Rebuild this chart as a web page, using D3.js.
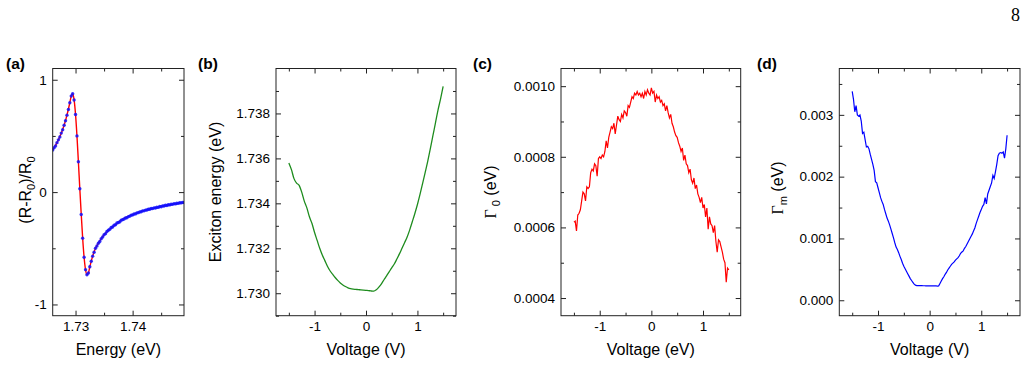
<!DOCTYPE html>
<html><head><meta charset="utf-8">
<script src="https://cdn.jsdelivr.net/npm/d3@7"></script>
<style>
body{margin:0;background:#fff;}
svg{display:block;}
text{font-family:"Liberation Sans",Arial,Helvetica,sans-serif;fill:#000;}
</style>
</head><body>
<svg id="chart" width="1027" height="392"></svg>
<script>
// ---------- Panel (a): reflectance contrast spectrum ----------
const energyA = [1.72600,1.72625,1.72650,1.72675,1.72700,1.72725,1.72750,1.72775,1.72800,1.72825,
 1.72850,1.72875,1.72900,1.72925,1.72950,1.72975,1.73000,1.73025,1.73050,1.73075,
 1.73100,1.73125,1.73150,1.73175,1.73200,1.73225,1.73250,1.73275,1.73300,1.73325,
 1.73350,1.73375,1.73400,1.73425,1.73450,1.73475,1.73500,1.73525,1.73550,1.73575,
 1.73600,1.73625,1.73650,1.73675,1.73700,1.73725,1.73750,1.73775,1.73800,1.73825,
 1.73850,1.73875,1.73900,1.73925,1.73950,1.73975,1.74000,1.74025,1.74050,1.74075,
 1.74100,1.74125,1.74150,1.74175,1.74200,1.74225,1.74250,1.74275,1.74300,1.74325,
 1.74350,1.74375,1.74400,1.74425,1.74450,1.74475,1.74500,1.74525,1.74550,1.74575,
 1.74600,1.74625,1.74650,1.74675,1.74700,1.74725,1.74750,1.74775,1.74800,1.74825,
 1.74850,1.74875,1.74900];
const reflA = [0.375,0.395,0.41,0.44,0.465,0.49,0.525,0.555,0.595,0.635,
 0.685,0.735,0.795,0.855,0.875,0.82,0.69,0.5,0.27,0.03,
 -0.2,-0.41,-0.58,-0.69,-0.735,-0.72,-0.665,-0.615,-0.57,-0.535,
 -0.5,-0.48,-0.455,-0.44,-0.415,-0.4,-0.38,-0.37,-0.35,-0.34,
 -0.33,-0.315,-0.31,-0.295,-0.29,-0.275,-0.27,-0.265,-0.25,-0.245,
 -0.24,-0.23,-0.228,-0.218,-0.214,-0.205,-0.203,-0.195,-0.194,-0.185,
 -0.183,-0.176,-0.175,-0.167,-0.167,-0.16,-0.159,-0.152,-0.153,-0.146,
 -0.147,-0.14,-0.141,-0.135,-0.136,-0.128,-0.13,-0.123,-0.124,-0.117,
 -0.119,-0.112,-0.114,-0.108,-0.109,-0.103,-0.105,-0.099,-0.1,-0.095,
 -0.096,-0.091,-0.092];
const fitEnergyA = [1.726,1.727,1.728,1.7285,1.729,1.72925,1.7295,1.72975,1.73,1.73025,
 1.7305,1.73075,1.731,1.73125,1.7315,1.73175,1.732,1.73225,1.7325,1.733,
 1.7335,1.734,1.735,1.736,1.737,1.738,1.74,1.742,1.744,1.746,1.749];
const fitReflA = [0.375,0.465,0.595,0.685,0.795,0.855,0.875,0.82,0.69,0.5,
 0.27,0.03,-0.2,-0.41,-0.58,-0.69,-0.735,-0.72,-0.665,-0.57,
 -0.5,-0.455,-0.38,-0.33,-0.29,-0.25,-0.2,-0.165,-0.14,-0.117,-0.092];
const xTicksA = [1.73, 1.74];
const xTickLabelsA = ["1.73", "1.74"];
const xMinorA = [1.735, 1.745];
const yTicksA = [-1, 0, 1];
const yTickLabelsA = ["-1", "0", "1"];
const yMinorA = [-0.5, 0.5];

// ---------- Panel (b): exciton energy vs voltage ----------
const voltageB = [-1.50,-1.45,-1.40,-1.35,-1.30,-1.25,-1.20,-1.15,-1.10,-1.05,
 -1.00,-0.95,-0.90,-0.85,-0.80,-0.75,-0.70,-0.65,-0.60,-0.55,
 -0.50,-0.45,-0.40,-0.35,-0.30,-0.25,-0.20,-0.15,-0.10,-0.05,
 0.00,0.05,0.10,0.15,0.20,0.25,0.30,0.35,0.40,0.45,
 0.50,0.55,0.60,0.65,0.70,0.75,0.80,0.85,0.90,0.95,
 1.00,1.05,1.10,1.15,1.20,1.25,1.30,1.35,1.40,1.45,1.50];
const excitonEnergy = [1.7358,1.7355,1.7351,1.7349,1.7348,1.7345,1.7341,1.7338,1.7334,1.7331,
 1.7327,1.73235,1.7320,1.7317,1.73145,1.7312,1.7310,1.73085,1.7307,1.73057,
 1.73046,1.73037,1.7303,1.73024,1.73020,1.73018,1.73017,1.73016,1.73015,1.73014,
 1.73013,1.73012,1.73010,1.73009,1.73015,1.73027,1.73042,1.7306,1.73077,1.73095,
 1.73113,1.7313,1.73152,1.73175,1.7320,1.73225,1.7325,1.73282,1.73318,1.73355,
 1.73395,1.7344,1.73488,1.73537,1.73587,1.73642,1.7370,1.73757,1.73815,1.73865,1.7392];
const yTicksB = [1.730, 1.732, 1.734, 1.736, 1.738];
const yTickLabelsB = ["1.730", "1.732", "1.734", "1.736", "1.738"];
const yMinorB = [1.729, 1.731, 1.733, 1.735, 1.737, 1.739];

// ---------- Panels (c), (d): linewidths vs voltage ----------
const voltageCD = [-1.500,-1.475,-1.450,-1.425,-1.400,-1.375,-1.350,-1.325,-1.300,-1.275,
 -1.250,-1.225,-1.200,-1.175,-1.150,-1.125,-1.100,-1.075,-1.050,-1.025,
 -1.000,-0.975,-0.950,-0.925,-0.900,-0.875,-0.850,-0.825,-0.800,-0.775,
 -0.750,-0.725,-0.700,-0.675,-0.650,-0.625,-0.600,-0.575,-0.550,-0.525,
 -0.500,-0.475,-0.450,-0.425,-0.400,-0.375,-0.350,-0.325,-0.300,-0.275,
 -0.250,-0.225,-0.200,-0.175,-0.150,-0.125,-0.100,-0.075,-0.050,-0.025,
 0.000,0.025,0.050,0.075,0.100,0.125,0.150,0.175,0.200,0.225,
 0.250,0.275,0.300,0.325,0.350,0.375,0.400,0.425,0.450,0.475,
 0.500,0.525,0.550,0.575,0.600,0.625,0.650,0.675,0.700,0.725,
 0.750,0.775,0.800,0.825,0.850,0.875,0.900,0.925,0.950,0.975,
 1.000,1.025,1.050,1.075,1.100,1.125,1.150,1.175,1.200,1.225,
 1.250,1.275,1.300,1.325,1.350,1.375,1.400,1.425,1.450,1.475,1.500];
const gamma0 = [6.15e-4,6.18e-4,5.90e-4,6.35e-4,6.40e-4,6.50e-4,6.75e-4,7.00e-4,6.95e-4,6.75e-4,
 7.15e-4,7.10e-4,7.15e-4,7.55e-4,7.65e-4,7.60e-4,7.80e-4,7.75e-4,7.45e-4,7.95e-4,
 8.00e-4,7.95e-4,8.05e-4,8.00e-4,8.15e-4,8.45e-4,8.25e-4,8.55e-4,8.70e-4,8.85e-4,
 8.80e-4,8.95e-4,8.65e-4,8.90e-4,9.15e-4,9.05e-4,9.00e-4,9.20e-4,9.10e-4,9.30e-4,
 9.25e-4,9.15e-4,9.45e-4,9.40e-4,9.55e-4,9.70e-4,9.65e-4,9.80e-4,9.75e-4,9.85e-4,
 9.75e-4,9.80e-4,9.70e-4,9.80e-4,9.65e-4,9.85e-4,9.75e-4,9.90e-4,9.80e-4,9.75e-4,
 9.95e-4,9.80e-4,9.85e-4,9.55e-4,9.75e-4,9.65e-4,9.70e-4,9.55e-4,9.60e-4,9.45e-4,
 9.50e-4,9.30e-4,9.45e-4,9.25e-4,9.10e-4,9.20e-4,8.95e-4,8.85e-4,8.70e-4,8.60e-4,
 8.55e-4,8.40e-4,8.30e-4,8.15e-4,8.25e-4,7.90e-4,8.05e-4,7.80e-4,7.75e-4,7.55e-4,
 7.65e-4,7.35e-4,7.25e-4,7.40e-4,7.10e-4,7.20e-4,6.95e-4,6.85e-4,6.70e-4,6.85e-4,
 6.55e-4,6.65e-4,6.30e-4,6.55e-4,5.95e-4,6.30e-4,6.10e-4,6.05e-4,5.85e-4,6.05e-4,
 5.60e-4,5.30e-4,5.65e-4,5.60e-4,5.45e-4,5.30e-4,5.10e-4,5.00e-4,4.45e-4,4.85e-4,4.80e-4];
const gammaM = [3.38e-3,3.25e-3,3.05e-3,3.15e-3,3.00e-3,2.98e-3,3.00e-3,2.90e-3,2.70e-3,2.72e-3,
 2.60e-3,2.48e-3,2.49e-3,2.45e-3,2.36e-3,2.28e-3,2.20e-3,2.10e-3,1.92e-3,1.90e-3,
 1.82e-3,1.74e-3,1.66e-3,1.60e-3,1.55e-3,1.47e-3,1.40e-3,1.33e-3,1.28e-3,1.22e-3,
 1.15e-3,1.08e-3,1.01e-3,0.93e-3,0.86e-3,0.82e-3,0.77e-3,0.71e-3,0.66e-3,0.60e-3,
 0.55e-3,0.51e-3,0.47e-3,0.43e-3,0.39e-3,0.35e-3,0.32e-3,0.29e-3,0.26e-3,0.245e-3,
 0.238e-3,0.237e-3,0.237e-3,0.236e-3,0.236e-3,0.235e-3,0.235e-3,0.234e-3,0.234e-3,0.233e-3,
 0.233e-3,0.233e-3,0.232e-3,0.232e-3,0.231e-3,0.231e-3,0.230e-3,0.232e-3,0.27e-3,0.31e-3,
 0.35e-3,0.38e-3,0.42e-3,0.45e-3,0.49e-3,0.52e-3,0.55e-3,0.58e-3,0.60e-3,0.62e-3,
 0.65e-3,0.67e-3,0.69e-3,0.72e-3,0.76e-3,0.78e-3,0.80e-3,0.84e-3,0.87e-3,0.91e-3,
 0.95e-3,0.99e-3,1.03e-3,1.07e-3,1.12e-3,1.17e-3,1.24e-3,1.30e-3,1.36e-3,1.42e-3,
 1.47e-3,1.52e-3,1.55e-3,1.66e-3,1.56e-3,1.72e-3,1.78e-3,1.84e-3,1.90e-3,2.02e-3,
 1.97e-3,2.08e-3,2.20e-3,2.34e-3,2.38e-3,2.39e-3,2.38e-3,2.40e-3,2.30e-3,2.45e-3,2.67e-3];
const xTicksV = [-1, 0, 1];
const xTickLabelsV = ["-1", "0", "1"];
const xMinorV = [-1.5, -0.5, 0.5, 1.5];
const yTicksC = [0.0004, 0.0006, 0.0008, 0.0010];
const yTickLabelsC = ["0.0004", "0.0006", "0.0008", "0.0010"];
const yMinorC = [0.0005, 0.0007, 0.0009];
const yTicksD = [0, 0.001, 0.002, 0.003];
const yTickLabelsD = ["0.000", "0.001", "0.002", "0.003"];
const yMinorD = [0.0005, 0.0015, 0.0025, 0.0035];

// ---------- drawing ----------
const svg = d3.select("#chart");
const TOP = 68.5, BOTTOM = 315.7;

function makePanel(p) {
  const g = svg.append("g");
  const x = d3.scaleLinear().domain(p.xDomain).range([p.left, p.right]);
  const y = d3.scaleLinear().domain(p.yDomain).range([BOTTOM, TOP]);
  const axis = (fn, scale, vals, size, labels, tr) => {
    const a = fn(scale).tickValues(vals).tickSize(size).tickPadding(6)
      .tickFormat(labels ? (d, i) => labels[i] : "");
    const gg = g.append("g").attr("transform", tr).call(a);
    gg.select(".domain").remove();
    gg.selectAll("line").attr("stroke", "#222").attr("stroke-width", 1);
    gg.selectAll("text").attr("font-size", 13.5).attr("fill", "#000")
      .style("font-family", '"Liberation Sans",Arial,sans-serif');
    return gg;
  };
  axis(d3.axisBottom, x, p.xTicks, -5, p.xLabels, `translate(0,${BOTTOM})`);
  axis(d3.axisBottom, x, p.xMinor, -3, null, `translate(0,${BOTTOM})`);
  axis(d3.axisTop, x, p.xTicks, -5, null, `translate(0,${TOP})`);
  axis(d3.axisTop, x, p.xMinor, -3, null, `translate(0,${TOP})`);
  axis(d3.axisLeft, y, p.yTicks, -5, p.yLabels, `translate(${p.left},0)`);
  axis(d3.axisLeft, y, p.yMinor, -3, null, `translate(${p.left},0)`);
  axis(d3.axisRight, y, p.yTicks, -5, null, `translate(${p.right},0)`);
  axis(d3.axisRight, y, p.yMinor, -3, null, `translate(${p.right},0)`);

  const clipId = "clip" + p.id;
  svg.append("clipPath").attr("id", clipId).append("rect")
    .attr("x", p.left).attr("y", TOP).attr("width", p.right - p.left).attr("height", BOTTOM - TOP);
  const plot = g.append("g").attr("clip-path", `url(#${clipId})`);
  p.draw(plot, x, y);

  g.append("rect").attr("x", p.left).attr("y", TOP)
    .attr("width", p.right - p.left).attr("height", BOTTOM - TOP)
    .attr("fill", "none").attr("stroke", "#222").attr("stroke-width", 1);

  g.append("text").attr("x", (p.left + p.right) / 2).attr("y", 355)
    .attr("text-anchor", "middle").attr("font-size", 16).text(p.xTitle);
  const yt = g.append("text").attr("transform", `translate(${p.yTitleX},${p.yTitleY}) rotate(-90)`)
    .attr("text-anchor", "middle").attr("font-size", 16);
  p.yTitle(yt);
  g.append("text").attr("x", p.labelX).attr("y", 69).attr("font-size", 15.5)
    .attr("font-weight", "bold").text(p.label);
}

const lineXY = (x, y, xs, ys, curve) => d3.line()
  .x((d, i) => x(xs[i])).y((d, i) => y(ys[i])).curve(curve || d3.curveLinear)(xs);

makePanel({
  id: "a", left: 52.7, right: 184, xDomain: [1.726, 1.749], yDomain: [-1.1, 1.1],
  xTicks: xTicksA, xLabels: xTickLabelsA, xMinor: xMinorA,
  yTicks: yTicksA, yLabels: yTickLabelsA, yMinor: yMinorA,
  xTitle: "Energy (eV)", label: "(a)", labelX: 6,
  yTitleX: 31, yTitleY: 190,
  yTitle: t => {
    t.append("tspan").text("(R-R");
    t.append("tspan").attr("font-size", 11).attr("dy", 4).text("0");
    t.append("tspan").attr("dy", -4).text(")/R");
    t.append("tspan").attr("font-size", 11).attr("dy", 4).text("0");
  },
  draw: (g, x, y) => {
    g.append("path").attr("d", lineXY(x, y, fitEnergyA, fitReflA, d3.curveMonotoneX))
      .attr("fill", "none").attr("stroke", "#ff0000").attr("stroke-width", 1.4);
    g.selectAll("circle").data(energyA).join("circle")
      .attr("cx", d => x(d)).attr("cy", (d, i) => y(reflA[i])).attr("r", 1.7)
      .attr("fill", "#1010ff").attr("fill-opacity", 0.85);
  }
});

makePanel({
  id: "b", left: 276, right: 456, xDomain: [-1.75, 1.75], yDomain: [1.729, 1.740],
  xTicks: xTicksV, xLabels: xTickLabelsV, xMinor: xMinorV,
  yTicks: yTicksB, yLabels: yTickLabelsB, yMinor: yMinorB,
  xTitle: "Voltage (V)", label: "(b)", labelX: 198,
  yTitleX: 221, yTitleY: 192,
  yTitle: t => t.text("Exciton energy (eV)"),
  draw: (g, x, y) => {
    g.append("path").attr("d", lineXY(x, y, voltageB, excitonEnergy, d3.curveMonotoneX))
      .attr("fill", "none").attr("stroke", "#1e8c1e").attr("stroke-width", 1.3);
  }
});

makePanel({
  id: "c", left: 561, right: 740.7, xDomain: [-1.75, 1.73], yDomain: [0.00035, 0.00105],
  xTicks: xTicksV, xLabels: xTickLabelsV, xMinor: xMinorV,
  yTicks: yTicksC, yLabels: yTickLabelsC, yMinor: yMinorC,
  xTitle: "Voltage (eV)", label: "(c)", labelX: 473,
  yTitleX: 496, yTitleY: 192,
  yTitle: t => {
    t.append("tspan").style("font-family", '"Liberation Serif","Times New Roman",serif').text("Γ");
    t.append("tspan").attr("font-size", 11).attr("dy", 4).text(" 0");
    t.append("tspan").attr("dy", -4).text(" (eV)");
  },
  draw: (g, x, y) => {
    g.append("path").attr("d", lineXY(x, y, voltageCD, gamma0))
      .attr("fill", "none").attr("stroke", "#ff0000").attr("stroke-width", 1.2);
  }
});

makePanel({
  id: "d", left: 839.3, right: 1020, xDomain: [-1.75, 1.75], yDomain: [-0.00025, 0.00375],
  xTicks: xTicksV, xLabels: xTickLabelsV, xMinor: xMinorV,
  yTicks: yTicksD, yLabels: yTickLabelsD, yMinor: yMinorD,
  xTitle: "Voltage (V)", label: "(d)", labelX: 757,
  yTitleX: 783, yTitleY: 188,
  yTitle: t => {
    t.append("tspan").style("font-family", '"Liberation Serif","Times New Roman",serif').text("Γ");
    t.append("tspan").attr("font-size", 11).attr("dy", 4).text("m");
    t.append("tspan").attr("dy", -4).text(" (eV)");
  },
  draw: (g, x, y) => {
    g.append("path").attr("d", lineXY(x, y, voltageCD, gammaM))
      .attr("fill", "none").attr("stroke", "#0000ff").attr("stroke-width", 1.2);
  }
});

svg.append("text").attr("x", 1011).attr("y", 21).attr("font-size", 18)
  .style("font-family", '"Liberation Serif","Times New Roman",serif').text("8");
</script>
</body></html>
